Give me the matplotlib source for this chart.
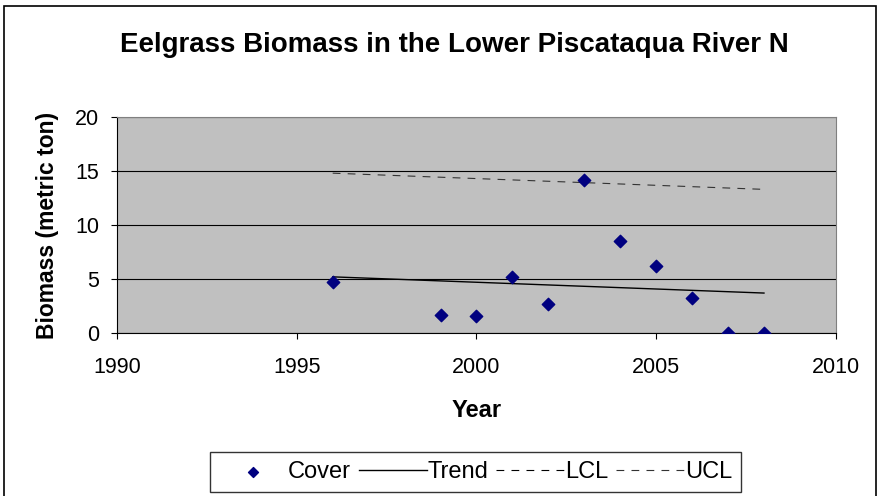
import numpy as np
import matplotlib.pyplot as plt
from matplotlib.patches import Rectangle

plt.rcParams['font.family'] = ['Liberation Sans', 'DejaVu Sans']

# biomass observations
years = [1996, 1999, 2000, 2001, 2002, 2003, 2004, 2005, 2006, 2007, 2008]
biomass = [4.7, 1.7, 1.55, 5.2, 2.7, 14.2, 8.5, 6.2, 3.2, 0.0, 0.0]

# regression trend and control limits at the ends of the record
line_years = [1996, 2008]
trend = [5.2, 3.7]
lcl = [-4.4, -5.9]
ucl = [14.8, 13.3]

fig = plt.figure(figsize=(8.78, 4.96), dpi=100)
ax = fig.add_axes([0.1333, 0.3286, 0.8187, 0.4355])

ax.set_facecolor('#c0c0c0')
ax.scatter(years, biomass, marker='D', s=40, color='#000080', zorder=3, label='Cover')
ax.plot(line_years, trend, color='black', lw=1, label='Trend', zorder=2)
ax.plot(line_years, lcl, color='black', lw=0.8, ls=(0, (7, 6.5)), label='LCL', zorder=2)
ax.plot(line_years, ucl, color='#333333', lw=0.8, ls=(0, (7, 6.5)), label='UCL', zorder=2)

ax.set_xlim(1990, 2010)
ax.set_ylim(0, 20)
ax.set_xticks([1990, 1995, 2000, 2005, 2010])
ax.set_yticks([0, 5, 10, 15, 20])
ax.yaxis.grid(True, color='black', lw=0.8)
ax.set_axisbelow(True)
ax.tick_params(labelsize=15.5, direction='out', length=4, colors='black')
ax.tick_params(axis='x', pad=13)
ax.tick_params(axis='y', pad=9)
for s in ['top', 'right']:
    ax.spines[s].set_color('#808080')
ax.spines['left'].set_color('black')
ax.spines['bottom'].set_color('black')

ax.set_xlabel('Year', fontsize=17, fontweight='bold')
ax.set_ylabel('Biomass (metric ton)', fontsize=16.5, fontweight='bold')
ax.xaxis.set_label_coords(0.5, -0.305)
ax.yaxis.set_label_coords(-0.081, 0.5)
fig.text(0.518, 0.909, 'Eelgrass Biomass in the Lower Piscataqua River N',
         ha='center', va='center', fontsize=20, fontweight='bold')

leg = fig.legend(loc='center', bbox_to_anchor=(0.5416, 0.048), ncol=4, fontsize=17,
                 frameon=True, fancybox=False, edgecolor='black', handlelength=2.9,
                 handletextpad=0.0, columnspacing=0.35, borderpad=0.38, borderaxespad=0,
                 markerscale=0.8)
leg.get_frame().set_linewidth(1)

# outer chart border
fig.patches.append(Rectangle((0.005, -0.01), 0.993, 0.998, transform=fig.transFigure,
                             fill=False, edgecolor='black', lw=1.2))

fig.savefig('out.png', dpi=100)
